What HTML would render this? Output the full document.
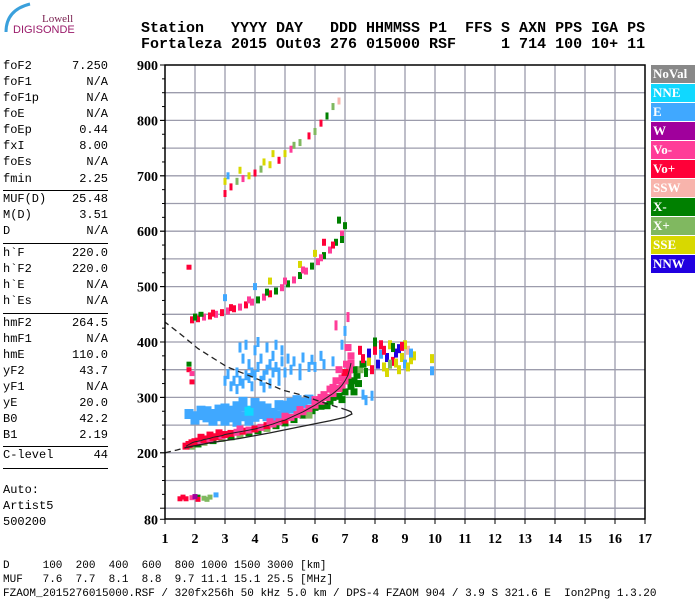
<!DOCTYPE html>
<html><head><meta charset="utf-8">
<style>
body{margin:0;background:#fff;width:700px;height:600px;overflow:hidden;position:relative;font-family:"Liberation Mono",monospace;}
.hdr{position:absolute;left:141px;font:bold 15px/15px "Liberation Mono",monospace;white-space:pre;color:#000;}
.lp{position:absolute;left:3px;width:105px;font:12px/12px "Liberation Mono",monospace;white-space:pre;}
.lp span{position:absolute;right:0;top:0}
.sep{position:absolute;left:3px;width:105px;height:0;border-top:1.5px solid #000}
.ft{position:absolute;left:3px;font:11px/11px "Liberation Mono",monospace;white-space:pre}
.leg{position:absolute;left:651px;width:44px;height:18px;color:#fff;font:bold 13px/18px "Liberation Serif",serif;padding-left:2px;box-sizing:border-box}
</style></head><body>
<svg style="position:absolute;left:0;top:0" width="140" height="50">
<path d="M6 32 Q6 10 30 4" stroke="#3aa0dc" stroke-width="3" fill="none"/>
<text x="42" y="22" font-family="Liberation Serif,serif" font-size="11" fill="#7a2050">Lowell</text>
<text x="13" y="33" font-family="Liberation Sans,sans-serif" font-size="11" fill="#9a1a6a">DIGISONDE</text>
</svg>
<div class="hdr" style="top:21px">Station   YYYY DAY   DDD HHMMSS P1  FFS S AXN PPS IGA PS</div>
<div class="hdr" style="top:37px">Fortaleza 2015 Out03 276 015000 RSF     1 714 100 10+ 11</div>

<div id="left"></div>

<svg id="chart" style="position:absolute;left:0;top:0" width="700" height="600"></svg>

<div class="ft" style="top:561px">D     100  200  400  600  800 1000 1500 3000 [km]</div>
<div class="ft" style="top:575px">MUF   7.6  7.7  8.1  8.8  9.7 11.1 15.1 25.5 [MHz]</div>
<div class="ft" style="top:589px">FZAOM_2015276015000.RSF / 320fx256h 50 kHz 5.0 km / DPS-4 FZAOM 904 / 3.9 S 321.6 E  Ion2Png 1.3.20</div>

<script>
// ---- data ----
const params = [["foF2","7.250",67],["foF1","N/A",83],["foF1p","N/A",99],["foE","N/A",115],["foEp","0.44",131],["fxI","8.00",147],["foEs","N/A",163],["fmin","2.25",180],
["MUF(D)","25.48",200],["M(D)","3.51",216],["D","N/A",232],["h`F","220.0",254],["h`F2","220.0",270],["h`E","N/A",286],["h`Es","N/A",302],
["hmF2","264.5",324],["hmF1","N/A",340],["hmE","110.0",356],["yF2","43.7",372],["yF1","N/A",388],["yE","20.0",404],["B0","42.2",420],["B1","2.19",436],
["C-level","44",456],["Auto:","",491],["Artist5","",507],["500200","",523]];
const sepY = [190,243,313,446,468];
const legendNames = ["NoVal","NNE","E","W","Vo-","Vo+","SSW","X-","X+","SSE","NNW"];
const legendColors = ["#888888","#10d8ff","#40a8ff","#a0009c","#ff3c98","#ff0038","#f8b4ac","#008000","#80b860","#d8d800","#2000e0"];
const xTicks = [1,2,3,4,5,6,7,8,9,10,11,12,13,14,15,16,17];
const yTicks = [900,800,700,600,500,400,300,200,80];
// main O trace (Vo+/Vo-)
const oTrace = [[1.7,212,5],[1.8,215,5],[1.9,218,5],[2.0,220,5],[2.1,221,5],[2.2,222,4],[2.3,224,5],[2.4,225,5],[2.5,226,4],[2.6,228,5],[2.7,229,5],[2.8,230,5],[2.9,231,4],[3.0,233,5],[3.2,235,5],[3.4,237,4],[3.6,239,5],[3.8,241,4],[4.0,243,5],[4.2,246,4],[4.4,249,5],[4.6,252,4],[4.8,256,4],[5.0,259,5],[5.2,264,4],[5.4,269,4],[5.6,274,4],[5.8,280,4],[6.0,286,4],[6.2,293,4],[6.4,300,4],[6.6,307,4],[6.8,316,4],[6.9,322,4],[7.0,330,4],[7.1,340,4],[7.15,350,4],[7.2,362,4],[7.2,375,4],[7.1,390,4],[6.0,296,4],[6.3,305,4],[6.6,318,4],[6.9,335,4],[5.5,278,4],[5.0,266,4],[4.5,256,4],[3.5,243,4],[2.5,232,5],[7.0,345,5],[6.7,330,4],[6.8,350,4],[6.5,315,4],[6.2,300,4],[7.05,360,4],[2.2,228,5],[2.8,236,5]];
// X trace (X-/X+)
const xTrace = [[1.9,212,8],[2.1,216,7],[2.3,219,8],[2.6,222,7],[2.9,226,8],[3.2,229,7],[3.5,233,8],[3.8,236,7],[4.1,240,7],[4.4,244,8],[4.7,249,7],[5.0,254,7],[5.3,260,7],[5.6,268,7],[5.9,276,7],[6.2,284,7],[6.5,293,7],[6.8,302,7],[7.0,310,7],[7.2,320,7],[7.3,330,7],[7.4,340,7],[7.5,350,8],[7.6,360,7],[6.4,285,7],[6.9,296,7],[5.8,268,8],[7.3,310,7],[7.1,330,7],[7.3,350,7],[6.6,300,7],[6.0,282,7],[7.45,325,7]];
// lower blue cloud
const eLow = [[1.8,270,2],[2.0,266,2],[2.2,268,2],[2.4,264,2],[2.6,270,2],[2.8,266,2],[3.0,268,2],[3.2,264,2],[3.4,270,2],[3.6,266,2],[3.8,268,2],[4.0,265,2],[4.2,270,2],[4.4,266,2],[4.6,272,2],[4.8,268,2],[5.0,276,2],[3.0,258,2],[3.4,256,2],[3.8,258,2],[2.4,275,2],[3.2,276,2],[4.0,278,2],[4.4,280,2],[5.2,280,2],[5.4,285,2],[3.6,284,2],[4.8,286,2],[5.6,290,2],[3.8,276,1],[2.2,276,2],[2.0,260,2],[2.6,258,2],[3.0,280,2],[3.4,284,2],[4.2,284,2],[4.6,262,2],[5.0,285,2],[5.2,290,2],[5.8,296,2],[4.0,290,2],[3.6,292,2],[2.8,278,2],[5.4,295,2]];
// upper blue cloud (spread)
const eHigh = [[3.2,320,2],[3.4,315,2],[3.6,325,2],[3.8,335,2],[4.0,340,2],[4.2,330,2],[4.4,350,2],[4.6,345,2],[4.8,330,2],[3.4,345,2],[3.8,360,2],[4.2,370,2],[4.6,375,2],[4.0,385,2],[4.4,390,2],[3.6,370,2],[5.0,345,2],[5.2,350,2],[5.5,352,2],[5.8,355,2],[6.0,355,2],[6.3,360,2],[5.6,372,2],[6.6,365,2],[4.9,385,2],[3.0,330,2],[3.9,320,2],[4.5,325,2],[7.6,305,2],[7.9,303,2],[7.7,295,2],[6.9,395,2],[7.0,420,2],[6.7,430,4],[7.1,445,4],[3.3,330,2],[3.5,330,2],[3.7,340,2],[3.9,345,2],[4.1,355,2],[4.3,340,2],[4.5,360,2],[4.7,355,2],[4.9,365,2],[5.1,370,2],[3.5,390,2],[3.7,395,2],[4.1,400,2],[4.7,395,2],[5.3,365,2],[5.9,368,2],[6.2,375,2],[3.1,342,2],[4.3,318,2],[4.8,345,2],[5.5,340,2]];
// 8-9 MHz spread
const spread = [[7.6,370,5],[7.8,365,9],[8.0,385,5],[8.1,360,10],[8.2,378,2],[8.3,355,9],[8.4,372,10],[8.5,395,9],[8.6,365,5],[8.7,380,10],[8.8,350,9],[8.9,372,9],[9.0,360,2],[9.1,385,6],[9.2,368,9],[8.2,395,5],[8.6,390,7],[9.0,395,9],[7.7,345,7],[8.4,345,9],[8.8,388,10],[9.3,375,9],[7.9,350,5],[8.5,360,8],[9.9,348,2],[9.9,370,9],[7.5,385,5],[8.0,400,7],[8.3,385,5],[8.7,362,9],[9.1,355,9],[7.8,380,10],[8.9,392,5],[9.2,380,2]];
// second hop
const hop2 = [[1.9,440,5],[2.1,442,5],[2.3,445,4],[2.5,447,5],[2.7,450,4],[2.9,453,5],[3.1,456,4],[3.3,460,5],[3.5,463,4],[3.7,467,5],[3.9,472,4],[4.1,476,7],[4.3,481,4],[4.5,487,5],[4.7,492,7],[4.9,498,4],[5.1,505,7],[5.3,512,4],[5.5,520,7],[5.7,528,4],[5.9,537,7],[6.1,545,4],[6.3,556,7],[6.5,566,4],[6.7,580,7],[6.9,595,4],[7.0,610,7],[4.0,500,2],[4.5,510,9],[3.0,480,2],[5.5,540,9],[6.3,580,5],[6.8,620,7],[6.0,560,9],[2.0,445,7],[2.6,452,5],[3.2,462,5],[3.8,476,4],[4.4,490,7],[5.0,510,4],[5.6,530,4],[6.2,552,4],[6.6,575,5],[6.9,585,7]];
// third hop
const hop3 = [[3.0,668,5],[3.0,690,9],[3.2,680,5],[3.4,690,8],[3.6,695,4],[3.8,700,9],[4.0,705,5],[4.2,712,8],[4.5,720,9],[4.8,728,5],[5.0,740,9],[5.2,748,4],[5.5,760,8],[5.8,772,5],[6.0,780,8],[6.2,795,5],[6.4,808,7],[6.6,825,8],[6.8,835,6],[3.5,710,9],[4.3,725,9],[3.1,700,2],[4.6,740,9],[5.3,755,8]];
// low echoes + misc
const lowEcho = [[1.5,117,5],[1.7,117,5],[1.9,119,4],[2.1,120,7],[2.3,118,8],[2.5,120,8],[2.7,124,2],[2.1,116,5],[2.0,121,3],[1.8,350,5],[1.9,343,4],[1.8,360,7],[1.9,328,5],[2.2,450,7],[1.8,535,5],[1.6,120,5],[2.4,116,8]];
// black profile curves
const profSolid = [[1.73,210],[2.5,218],[3.5,226],[4.5,236],[5.5,247],[6.5,258],[7.0,264],[7.23,270],[7.2,274],[7.07,277]];
const profDash = [[7.07,277],[6.2,292],[5.5,305],[4.93,313],[4.0,335],[3.07,355],[2.1,388],[1.5,415],[1.0,436]];
const profLow = [[1.0,200],[1.4,205],[1.73,210]];

// ---- axes ----
const X0=165, X1=645, Y0=65, Y1=519;
const fx = f => X0 + (f-1)*30;
const fy = h => Y0 + (900-h)*0.554;
const NS="http://www.w3.org/2000/svg";
const svg=document.getElementById('chart');
function mk(tag,at,parent){const e=document.createElementNS(NS,tag);for(const k in at)e.setAttribute(k,at[k]);(parent||svg).appendChild(e);return e;}

const left=document.getElementById('left');
params.forEach(p=>{
  const d=document.createElement('div');d.className='lp';d.style.top=(p[2]-7)+'px';
  
  
  d.textContent=p[0];
  if(p[1]){const s=document.createElement('span');s.textContent=p[1];d.appendChild(s);}
  left.appendChild(d);
});
sepY.forEach(y=>{const d=document.createElement('div');d.className='sep';d.style.top=y+'px';
  
  
  left.appendChild(d);});

const grid=mk('g',{});


for(let f=2;f<=16;f++) mk('line',{x1:fx(f),x2:fx(f),y1:Y0,y2:Y1,stroke:'#9c9cac','stroke-width':1.3},grid);
for(let h=100;h<900;h+=50) mk('line',{x1:X0,x2:X1,y1:fy(h),y2:fy(h),stroke:'#9c9cac','stroke-width':1.3},grid);

const marks=mk('g',{});


function drawSet(arr,name,w,hh){
  arr.forEach(p=>{
    const r=mk('rect',{x:fx(p[0])-w/2,y:fy(p[1])-hh/2,width:w,height:hh,fill:legendColors[p[2]]},marks);
    
    
  });
}
drawSet(eLow,'e-layer-echo',9,10);
drawSet(eHigh,'spread-echo',3,10);
drawSet(xTrace,'x-trace-echo',7,7);
drawSet(oTrace,'o-trace-echo',7,7);
drawSet(spread,'spread-f-echo',4,9);
drawSet(hop2,'second-hop-echo',4,7);
drawSet(hop3,'third-hop-echo',3,7);
drawSet(lowEcho,'low-echo',5,5);

function pathOf(a){return a.map((p,i)=>(i?'L':'M')+fx(p[0]).toFixed(1)+' '+fy(p[1]).toFixed(1)).join(' ');}
const ps=mk('path',{d:pathOf(profSolid),stroke:'#222',fill:'none','stroke-width':1.3});


const pd=mk('path',{d:pathOf(profDash),stroke:'#222',fill:'none','stroke-width':1.3,'stroke-dasharray':'6,4'});


const pl=mk('path',{d:pathOf(profLow),stroke:'#222',fill:'none','stroke-width':1.3,'stroke-dasharray':'6,4'});


const tr=mk('path',{d:pathOf(oTrace.slice(0,38)),stroke:'#222',fill:'none','stroke-width':1});



const fr=mk('rect',{x:X0,y:Y0,width:X1-X0,height:Y1-Y0,fill:'none',stroke:'#000','stroke-width':1.5});



for(let h=100;h<=900;h+=25){mk('line',{x1:X0-(h%100===0?5:3),x2:X0,y1:fy(h),y2:fy(h),stroke:'#000'});}
yTicks.forEach(t=>{
  const y=fy(t);
  mk('line',{x1:X0-5,x2:X0,y1:y,y2:y,stroke:'#000'});
  const tx=mk('text',{x:X0-7,y:y+5,'text-anchor':'end','font-family':'Liberation Serif,serif','font-weight':'bold','font-size':14});
  tx.textContent=t;
  
  
});
xTicks.forEach(t=>{
  const x=fx(t);
  mk('line',{x1:x,x2:x,y1:Y1,y2:Y1+5,stroke:'#000'});
  const tx=mk('text',{x:x,y:Y1+24,'text-anchor':'middle','font-family':'Liberation Serif,serif','font-weight':'bold','font-size':14});
  tx.textContent=t;
  
  
});

legendNames.forEach((n,i)=>{
  const d=document.createElement('div');d.className='leg';
  d.style.top=(65+i*19)+'px';d.style.background=legendColors[i];
  d.textContent=n;
  
  
  document.body.appendChild(d);
});
</script>
</body></html>
